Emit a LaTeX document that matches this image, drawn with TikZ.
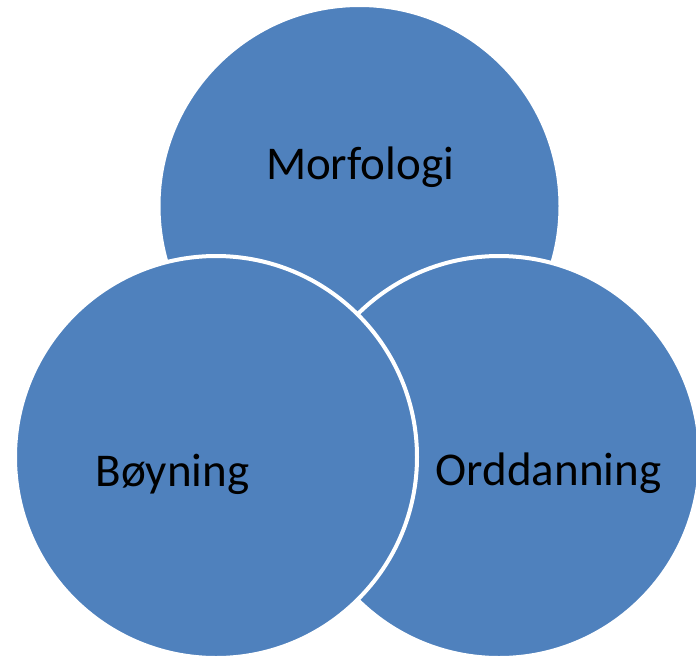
\documentclass[tikz,border=0pt]{standalone}
\usepackage{fontspec}
\setmainfont{Carlito}
\definecolor{ofblue}{HTML}{4F81BD}
\begin{document}
\begin{tikzpicture}[x=1pt,y=-1pt,
  blob/.style={circle, fill=ofblue, draw=white, line width=4pt, minimum size=402pt, inner sep=0pt, outer sep=0pt},
  lbl/.style={anchor=base, inner sep=0pt, font=\fontsize{47}{50}\selectfont, text=black}]
\useasboundingbox (0,0) rectangle (696,659);
\node[blob] (top) at (359.5,206) {};
\node[blob] (right) at (499,457) {};
\node[blob] (left) at (216,457) {};
\node[lbl] (tm) at (360,179) {Morfologi};
\node[lbl] (tl) at (172.5,486) {Bøyning};
\node[lbl] (tr) at (548.5,485) {Orddanning};
\end{tikzpicture}
\end{document}
